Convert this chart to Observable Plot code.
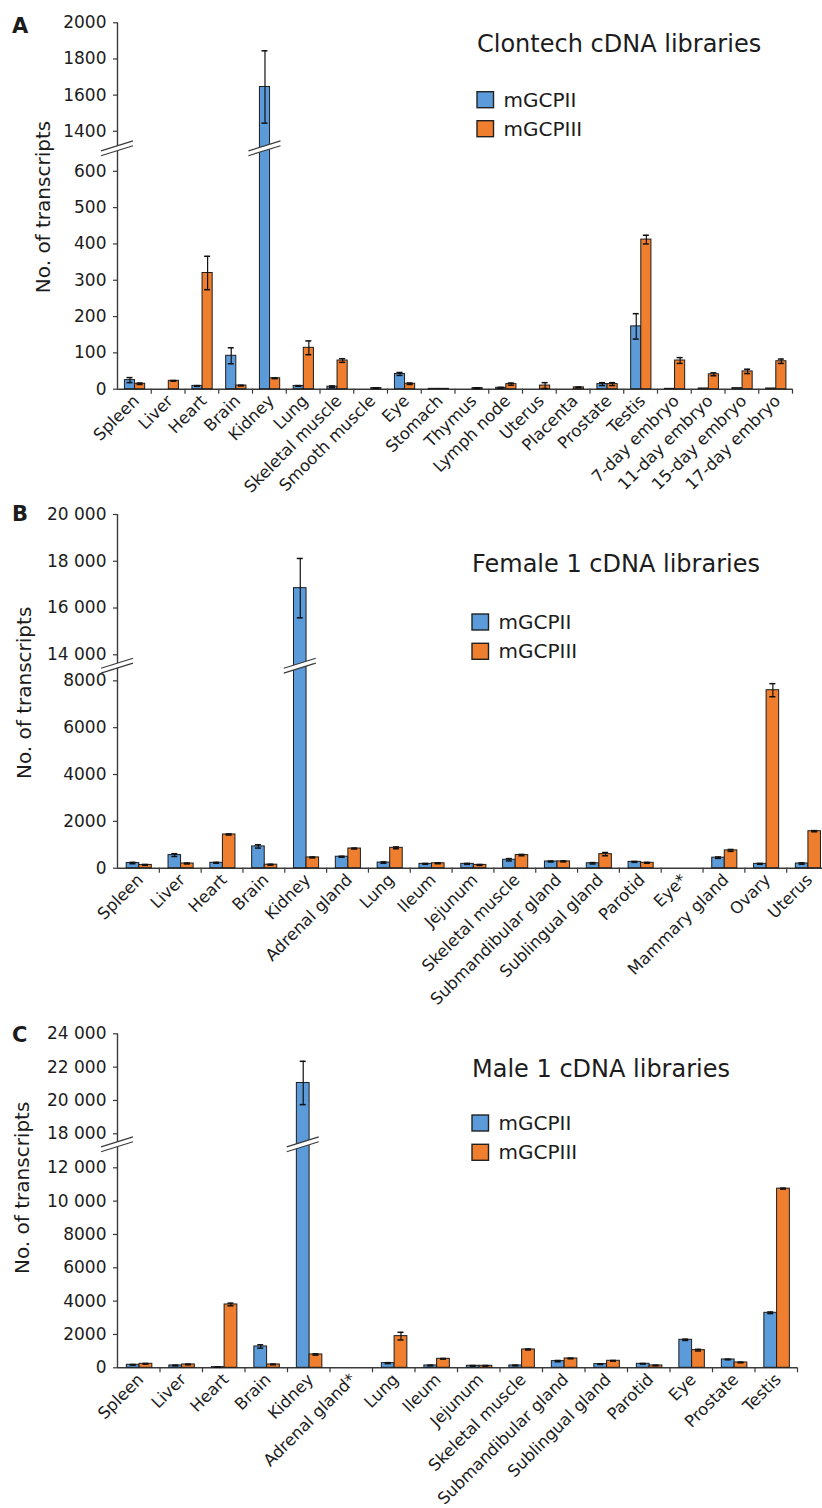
<!DOCTYPE html>
<html><head><meta charset="utf-8">
<script src="https://cdn.jsdelivr.net/npm/d3@7"></script>
<script src="https://cdn.jsdelivr.net/npm/@observablehq/plot@0.6"></script>
<style>
body{margin:0;background:#fff;overflow:hidden}
#wrap{position:relative;width:822px;height:1508px;overflow:hidden}
</style></head><body><div id="wrap"></div>
<script>
// ---------- Data ----------
const seriesNames = ["mGCPII", "mGCPIII"];

const tissuesA = ["Spleen","Liver","Heart","Brain","Kidney","Lung","Skeletal muscle","Smooth muscle","Eye","Stomach","Thymus","Lymph node","Uterus","Placenta","Prostate","Testis","7-day embryo","11-day embryo","15-day embryo","17-day embryo"];
const mGCPII_A     = [25, 0, 9, 92, 1645, 9, 7, 0, 42, 1, 0, 4, 0, 0, 14, 173, 1, 2, 3, 2];
const mGCPII_A_err = [7, 0, 1, 22, 200, 1, 2, 0, 4, 0, 0, 1, 0, 0, 4, 35, 0, 0, 0, 0];
const mGCPIII_A     = [15, 23, 320, 10, 30, 114, 79, 3, 15, 1, 3, 14, 10, 5, 14, 412, 79, 41, 49, 77];
const mGCPIII_A_err = [2, 1, 46, 1, 1, 19, 5, 1, 2, 0, 1, 3, 8, 1, 4, 12, 8, 4, 6, 6];
const ticksA = [0, 100, 200, 300, 400, 500, 600, 1400, 1600, 1800, 2000];
const breakA = [662, 1303];

const tissuesB = ["Spleen","Liver","Heart","Brain","Kidney","Adrenal gland","Lung","Ileum","Jejunum","Skeletal muscle","Submandibular gland","Sublingual gland","Parotid","Eye*","Mammary gland","Ovary","Uterus"];
const mGCPII_B     = [220, 560, 230, 930, 16850, 490, 240, 185, 185, 360, 285, 210, 270, null, 450, 185, 200];
const mGCPII_B_err = [30, 60, 20, 70, 1270, 20, 30, 20, 20, 50, 20, 30, 20, null, 30, 20, 30];
const mGCPIII_B     = [140, 200, 1440, 150, 460, 840, 870, 210, 140, 560, 290, 600, 230, null, 760, 7600, 1580];
const mGCPIII_B_err = [20, 20, 25, 20, 20, 20, 40, 20, 20, 30, 20, 70, 20, null, 40, 280, 25];
const ticksB = [0, 2000, 4000, 6000, 8000, 14000, 16000, 18000, 20000];
const breakB = [8625, 13512];

const tissuesC = ["Spleen","Liver","Heart","Brain","Kidney","Adrenal gland*","Lung","Ileum","Jejunum","Skeletal muscle","Submandibular gland","Sublingual gland","Parotid","Eye","Prostate","Testis"];
const mGCPII_C     = [180, 140, 40, 1280, 21050, null, 280, 140, 120, 140, 400, 220, 240, 1680, 500, 3300];
const mGCPII_C_err = [20, 20, 10, 100, 1300, null, 30, 20, 20, 20, 40, 20, 20, 40, 20, 50];
const mGCPIII_C     = [240, 200, 3800, 200, 800, null, 1900, 540, 120, 1100, 560, 420, 140, 1060, 320, 10750];
const mGCPIII_C_err = [20, 20, 80, 20, 40, null, 230, 20, 20, 30, 20, 20, 20, 50, 20, 30];
const ticksC = [0, 2000, 4000, 6000, 8000, 10000, 12000, 18000, 20000, 22000, 24000];
const breakC = [13380, 17340];

// ---------- Style ----------
const colors = ["#5b9bd9", "#ef7e2f"];
const ink = "#1c1c1c";
const axisInk = "#3a3a3a";
const font = "'DejaVu Sans', sans-serif";
const fmt = v => v >= 10000 ? `${Math.floor(v / 1000)} ${String(v % 1000).padStart(3, "0")}` : String(v);

function drawPanel(cfg) {
  const {tissues, ii, iiErr, iii, iiiErr, ticks, brk, breakCat, top, height, yPx, xPx,
         marginRight, letter, title, legend, yTitleDx, yTitleDy} = cfg;
  const width = 822, marginLeft = xPx[0];
  const n = tissues.length;
  const bw = (xPx[1] - xPx[0]) / n;
  const slots = [[0.22, 0.52], [0.52, 0.82]];
  const yDomain = [0, brk[0], brk[1], ticks[ticks.length - 1]];
  const yMax = ticks[ticks.length - 1];
  const errs = [iiErr, iiiErr];
  const rows = [ii, iii].map((vals, s) => tissues.map((t, i) => ({tissue: t, value: vals[i], err: errs[s][i]})).filter(d => d.value != null));

  const marks = [];
  // x axis line and boundary ticks
  marks.push(Plot.ruleY([0], {stroke: axisInk, strokeWidth: 1.4}));
  marks.push(Plot.ruleX(tissues, {x: d => d, dx: bw / 2, y1: 0, y2: 0, insetBottom: -5, stroke: axisInk, strokeWidth: 1.2}));
  rows.forEach((r, s) => {
    const [a, b] = slots[s];
    const c = (a + b) / 2;
    marks.push(Plot.barY(r, {x: "tissue", y: "value", fill: colors[s], stroke: "#1d1d1d", strokeWidth: 1, insetLeft: a * bw, insetRight: (1 - b) * bw}));
    const e = r.filter(d => d.err > 0);
    marks.push(Plot.ruleX(e, {x: "tissue", y1: d => d.value - d.err, y2: d => d.value + d.err, dx: (c - 0.5) * bw, stroke: "#111", strokeWidth: 1.2}));
    const caps = e.flatMap(d => [{tissue: d.tissue, v: d.value - d.err}, {tissue: d.tissue, v: d.value + d.err}]);
    marks.push(Plot.tickY(caps, {x: "tissue", y: "v", insetLeft: c * bw - 3, insetRight: (1 - c) * bw - 3, stroke: "#111", strokeWidth: 1.5}));
  });
  // y axis line, ticks, labels
  marks.push(Plot.ruleX([tissues[0]], {x: d => d, dx: -bw / 2, y1: 0, y2: yMax, stroke: axisInk, strokeWidth: 1.4}));
  marks.push(Plot.tickY(ticks, {y: d => d, insetLeft: -4, insetRight: width - marginRight - marginLeft, stroke: axisInk, strokeWidth: 1.2}));
  marks.push(Plot.text(ticks, {y: d => d, text: fmt, frameAnchor: "left", textAnchor: "end", dx: -11, fontSize: 17, fill: ink}));
  // axis break marks (on the y axis and across the tall kidney bar)
  marks.push((index, scales, values, dims) => {
    const x = scales.x, y = scales.y;
    const yb = y(brk[0]);
    const cx2 = x(breakCat) + (slots[0][0] + slots[0][1]) / 2 * bw;
    const g = d3.create("svg:g");
    for (const cx of [marginLeft, cx2]) {
      const hw = 16, sl = 5, gap = 2.4;
      g.append("path")
        .attr("d", `M${cx - hw},${yb + sl + gap}L${cx + hw},${yb - sl + gap}L${cx + hw},${yb - sl - gap}L${cx - hw},${yb + sl - gap}Z`)
        .attr("fill", "white");
      for (const o of [gap, -gap]) {
        g.append("line").attr("x1", cx - hw).attr("y1", yb + sl + o).attr("x2", cx + hw).attr("y2", yb - sl + o)
          .attr("stroke", axisInk).attr("stroke-width", 1.2);
      }
    }
    return g.node();
  });
  // x labels
  marks.push(Plot.text(tissues, {x: d => d, y: 0, text: d => d, rotate: -45, textAnchor: "end", dx: 2, dy: 9, fontSize: 16.5, fill: ink}));
  // y title
  marks.push(Plot.text(["No. of transcripts"], {text: d => d, frameAnchor: "left", textAnchor: "middle", rotate: -90, dx: yTitleDx, dy: yTitleDy, fontSize: 20, fill: ink}));

  const svg = Plot.plot({
    width, height,
    marginLeft, marginRight, marginTop: yPx[3], marginBottom: height - yPx[0],
    x: {type: "band", domain: tissues, range: xPx, padding: 0, round: false, axis: null},
    y: {type: "linear", domain: yDomain, range: yPx, axis: null},
    style: {fontFamily: font, fontSize: "16px", color: ink, background: "transparent", overflow: "visible"},
    marks
  });
  svg.style.position = "absolute";
  svg.style.left = "0px";
  svg.style.top = top + "px";
  svg.style.maxWidth = "none";
  svg.style.background = "transparent";
  svg.style.overflow = "visible";

  const sel = d3.select(svg);
  const txt = (x, y, size, s) => sel.append("text").attr("x", x).attr("y", y - top).attr("font-size", size)
    .attr("text-anchor", "start").attr("fill", ink).attr("font-family", font).text(s);
  // panel letter
  txt(12, letter.y, 21, letter.text).attr("font-weight", "bold");
  // title
  txt(title.x, title.y, 24, title.text);
  // legend
  seriesNames.forEach((name, s) => {
    sel.append("rect").attr("x", legend.x).attr("y", legend.ys[s] - top).attr("width", 16.5).attr("height", 16)
      .attr("fill", colors[s]).attr("stroke", "#222").attr("stroke-width", 1.4);
    txt(legend.x + 26.5, legend.ys[s] + 15, 20, name);
  });
  document.getElementById("wrap").appendChild(svg);
}

drawPanel({
  tissues: tissuesA, ii: mGCPII_A, iiErr: mGCPII_A_err, iii: mGCPIII_A, iiiErr: mGCPIII_A_err,
  ticks: ticksA, brk: breakA, breakCat: "Kidney",
  top: 0, height: 500, yPx: [388.7, 148.3, 148.3, 22.3], xPx: [117, 792], marginRight: 30,
  letter: {text: "A", y: 33}, title: {text: "Clontech cDNA libraries", x: 477, y: 52.3},
  legend: {x: 477, ys: [91.7, 120.7]}, yTitleDx: -74, yTitleDy: 1
});
drawPanel({
  tissues: tissuesB, ii: mGCPII_B, iiErr: mGCPII_B_err, iii: mGCPIII_B, iiiErr: mGCPIII_B_err,
  ticks: ticksB, brk: breakB, breakCat: "Kidney",
  top: 495, height: 525, yPx: [372.7, 170.7, 170.7, 19], xPx: [117, 828], marginRight: 0,
  letter: {text: "B", y: 520.7}, title: {text: "Female 1 cDNA libraries", x: 472, y: 571.7},
  legend: {x: 472, ys: [614, 643.3]}, yTitleDx: -93, yTitleDy: 1.5
});
drawPanel({
  tissues: tissuesC, ii: mGCPII_C, iiErr: mGCPII_C_err, iii: mGCPIII_C, iiiErr: mGCPIII_C_err,
  ticks: ticksC, brk: breakC, breakCat: "Kidney",
  top: 1000, height: 508, yPx: [367.3, 144.3, 144.3, 33.3], xPx: [117, 797], marginRight: 25,
  letter: {text: "C", y: 1041.5}, title: {text: "Male 1 cDNA libraries", x: 472, y: 1076.7},
  legend: {x: 472, ys: [1115, 1144.3]}, yTitleDx: -95, yTitleDy: -13
});
</script></body></html>
